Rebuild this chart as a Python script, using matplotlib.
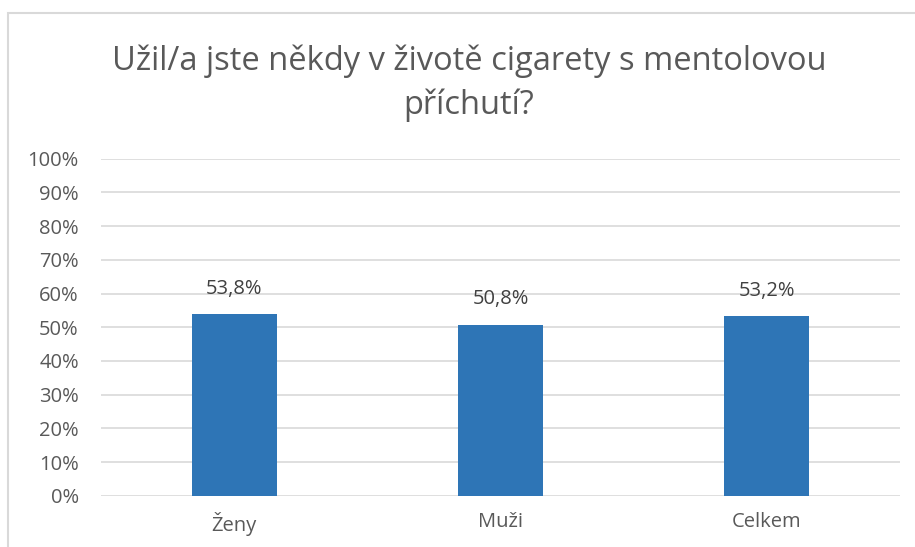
import matplotlib
matplotlib.use("Agg")
import matplotlib.pyplot as plt
from matplotlib.patches import Rectangle

categories = ["Ženy", "Muži", "Celkem"]
values = [53.8, 50.8, 53.2]
value_labels = ["53,8%", "50,8%", "53,2%"]
yticks = [0, 10, 20, 30, 40, 50, 60, 70, 80, 90, 100]

plt.rcParams['font.family'] = ['Open Sans', 'DejaVu Sans']
gray = '#595959'

fig = plt.figure(figsize=(9.15, 5.47), dpi=100)
fig.patch.set_facecolor('white')
# outer frame
fig.add_artist(Rectangle((8/915, -0.1), 1.2, (547-13)/547 + 0.1, transform=fig.transFigure,
                         fill=False, edgecolor='#d9d9d9', linewidth=1.5))

ax = fig.add_axes([101/915, 1-495.7/547, (900-101)/915, (495.7-158.7)/547])
x = range(len(categories))
ax.bar(x, values, width=0.32, color='#2e75b6', zorder=3)
ax.set_xlim(-0.5, 2.5)
ax.set_ylim(0, 100)
ax.set_yticks(yticks)
ax.set_yticklabels([f"{t}%" for t in yticks])
ax.set_xticks(list(x))
ax.set_xticklabels(categories)
ax.grid(axis='y', color='#d9d9d9', linewidth=1.2, zorder=0)
for s in ax.spines.values():
    s.set_visible(False)
ax.tick_params(axis='y', length=0, labelsize=14.5, colors=gray, pad=16)
ax.tick_params(axis='x', length=0, labelsize=14.5, colors=gray, pad=12)
for i, (v, lab) in enumerate(zip(values, value_labels)):
    ax.annotate(lab, (i, v), xytext=(0, 11), textcoords='offset points',
                ha='center', va='bottom', fontsize=14.5, color='#404040')

fig.text(469/915, 1-83/547, "Užil/a jste někdy v životě cigarety s mentolovou\npříchutí?",
         ha='center', va='center', fontsize=23.5, color=gray, linespacing=1.4)

fig.savefig("out.png", dpi=100)
